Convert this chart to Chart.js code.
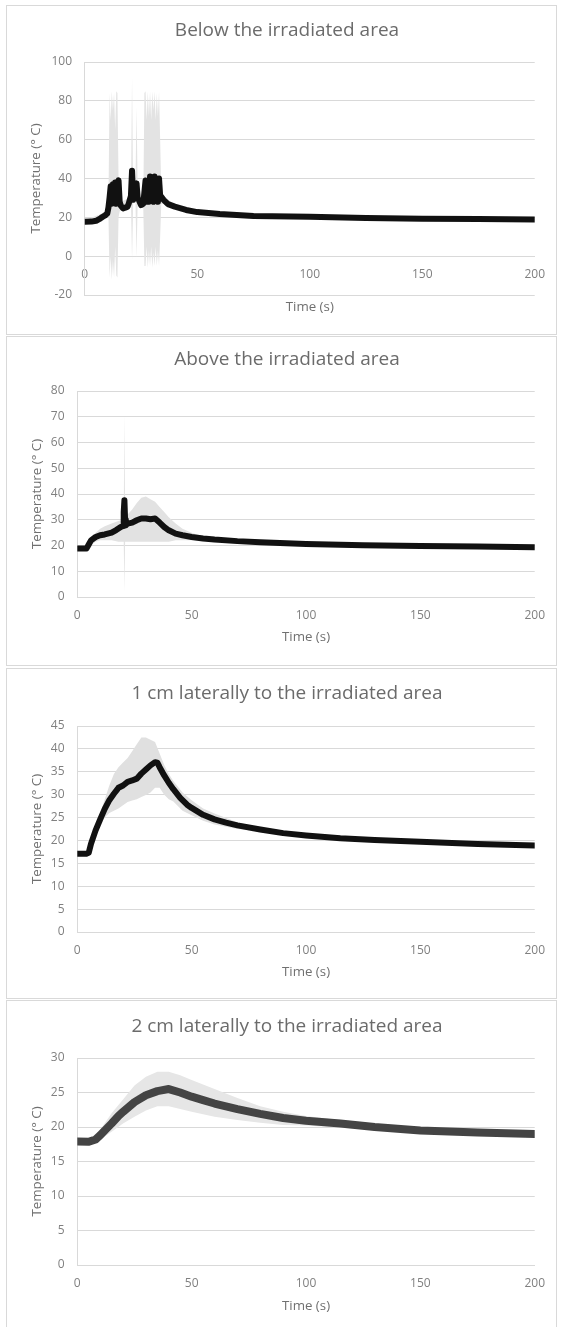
<!DOCTYPE html>
<html>
<head>
<meta charset="utf-8">
<script src="https://cdn.jsdelivr.net/npm/chart.js@4.4.1/dist/chart.umd.min.js"></script>
<style>
  html, body { margin:0; padding:0; background:#fff; overflow:hidden; }
  body { width:561px; height:1327px; position:relative; }
  .panel { position:absolute; left:6px; width:551px; box-sizing:border-box; border:1px solid #d9d9d9; background:#fff; }
  .panel canvas { position:absolute; left:0; top:0; }
</style>
</head>
<body>
<div class="panel" style="top:5px;height:330px"><canvas id="c1" width="549" height="328"></canvas></div>
<div class="panel" style="top:336px;height:330px"><canvas id="c2" width="549" height="328"></canvas></div>
<div class="panel" style="top:668px;height:331px"><canvas id="c3" width="549" height="329"></canvas></div>
<div class="panel" style="top:1000px;height:340px"><canvas id="c4" width="549" height="326"></canvas></div>
<script>
// ---------- Data ----------
// Below the irradiated area
const belowTime = [0, 3, 5, 7, 8, 9, 10, 10.5, 11, 11.5,
  12, 12.5, 13, 13.5, 14, 14.5, 15, 15.5, 16, 17,
  18, 19, 19.5, 20, 20.5, 21, 21.5, 22, 22.5, 23,
  23.5, 24, 25, 26, 26.5, 27, 27.5, 28, 28.5, 29,
  29.5, 30, 30.5, 31, 31.5, 32, 32.5, 33, 33.5, 34,
  35, 37, 40, 45, 50, 60, 75, 100, 125, 150,
  175, 200];
const belowMean = [17.7, 17.8, 18.2, 19.5, 20.3, 21, 22, 25, 30, 36,
  27, 37, 28, 38, 27, 37, 39, 28, 26, 24.6,
  25, 25.5, 27, 29, 31, 44, 29, 30.6, 33, 37.5,
  30, 29, 26.3, 27, 33, 39, 28, 37, 28, 41,
  29, 38, 28, 41, 29, 38, 28, 40, 31, 30.6,
  29, 26.8, 25.5, 23.8, 22.7, 21.7, 20.7, 20.3, 19.6, 19.3,
  19.1, 18.9];
const belowBandTime = [0, 10, 10.5, 11, 11.5, 12, 12.5, 13, 13.5, 14,
  14.5, 15, 15.5, 16, 20, 20.5, 21, 21.5, 22, 22.5,
  23, 23.5, 24, 26, 26.5, 27, 27.5, 28, 28.5, 29,
  29.5, 30, 30.5, 31, 31.5, 32, 32.5, 33, 33.5, 34,
  35, 40, 50, 60, 100, 200];
const belowHigh = [18.5, 23, 26, 84, 70, 85, 75, 84, 65, 85,
  84, 40, 30, 28, 30, 32, 92, 33, 33, 35,
  77, 34, 31, 29, 84, 85, 70, 85, 72, 85,
  70, 85, 75, 85, 70, 84, 72, 85, 60, 33,
  31, 26.5, 23.5, 22.3, 20.8, 19.3];
const belowLow = [17, 21, 22, -11, 0, -12, -2, -11, 5, -10,
  -11, 20, 23, 24, 26, 28, -2, 27, 28, 29,
  -1, 28, 27, 25, -5, -5, 5, -6, 3, -5,
  5, -6, 2, -5, 5, -5, 3, -5, 10, 27,
  27, 24.5, 22, 21.2, 19.8, 18.5];

// Above the irradiated area
const aboveTime = [0, 4, 5, 6, 8, 10, 12, 15, 17, 19,
  20, 20.3, 20.6, 20.9, 21.2, 22, 24, 26, 28, 30,
  32, 34, 36, 38, 40, 43, 46, 50, 55, 60,
  70, 80, 100, 125, 150, 175, 200];
const aboveMean = [18.8, 18.8, 20.4, 22, 23.3, 24, 24.3, 25, 26, 27.2,
  27.6, 33, 37.6, 30, 27.9, 28.5, 28.9, 29.8, 30.5, 30.5,
  30.2, 30.5, 28.9, 27.2, 25.9, 24.6, 24, 23.3, 22.7, 22.3,
  21.7, 21.3, 20.6, 20.1, 19.8, 19.6, 19.3];
const aboveBandTime = [0, 4, 5, 8, 10, 12, 15, 18, 20, 20.3,
  20.6, 20.9, 22, 24, 26, 28, 30, 32, 34, 36,
  38, 40, 43, 46, 50, 55, 60, 100, 200];
const aboveHigh = [19.5, 19.5, 21.5, 25, 26.5, 27.5, 28.5, 29.5, 30, 31,
  71.5, 31, 32, 34, 36.5, 38.5, 39, 38, 37, 35,
  33, 31, 28.5, 26.5, 25, 23.5, 22.8, 21.1, 19.8];
const aboveLow = [18.2, 18.2, 19.5, 21.5, 22, 22, 22, 21.5, 21.5, 21.5,
  2, 21.5, 21.5, 21.5, 21.5, 21.5, 21.5, 21.5, 21.5, 21.5,
  21.5, 21.5, 22, 22, 22, 21.8, 21.6, 20.1, 18.8];

// 1 cm laterally
const lat1Time = [0, 4, 5, 6, 8, 10, 12, 14, 16, 18,
  20, 22, 24, 26, 28, 30, 32, 34, 35, 36,
  38, 40, 42, 45, 48, 50, 55, 60, 65, 70,
  80, 90, 100, 115, 130, 150, 175, 200];
const lat1Mean = [17.1, 17.1, 17.3, 19.3, 22.2, 24.6, 26.9, 28.8, 30.2, 31.5,
  32, 32.8, 33.1, 33.5, 34.6, 35.5, 36.4, 37.1, 37, 36,
  34.2, 32.6, 31.2, 29.3, 27.8, 27.1, 25.6, 24.6, 23.9, 23.3,
  22.4, 21.6, 21.1, 20.5, 20.1, 19.7, 19.2, 18.9];
const lat1BandTime = [0, 5, 8, 10, 12, 14, 16, 18, 20, 22,
  24, 26, 28, 30, 32, 34, 36, 38, 40, 42,
  46, 50, 55, 60, 70, 80, 100, 150, 200];
const lat1High = [17.4, 17.6, 23.5, 26, 29, 32, 34.5, 36, 37, 38,
  39.5, 41, 42.5, 42.5, 42, 41.5, 39, 36.5, 34.5, 33,
  30.5, 28.8, 27, 25.9, 24, 22.8, 21.5, 19.9, 19.1];
const lat1Low = [16.8, 17, 21, 23, 25, 26, 26.5, 27, 27.7, 28.4,
  28.7, 29, 29.5, 29.9, 30.5, 31.5, 31.5, 30, 29, 28.5,
  26.5, 25.5, 24.3, 23.5, 22.5, 22, 20.7, 19.5, 18.7];

// 2 cm laterally
const lat2Time = [0, 5, 8, 10, 12, 15, 18, 20, 25, 30,
  35, 40, 45, 50, 55, 60, 70, 80, 90, 100,
  115, 130, 150, 175, 200];
const lat2Mean = [17.9, 17.85, 18.2, 18.8, 19.5, 20.5, 21.6, 22.2, 23.6, 24.6,
  25.2, 25.5, 25, 24.4, 23.9, 23.4, 22.6, 21.9, 21.3, 20.9,
  20.5, 20, 19.5, 19.2, 19];
const lat2BandTime = [0, 8, 10, 15, 20, 25, 30, 35, 40, 45,
  50, 60, 70, 80, 90, 100, 110, 150, 200];
const lat2High = [18.2, 18.6, 19.6, 22, 24, 26, 27.3, 28, 28, 27.5,
  26.8, 25.5, 24.2, 23, 22.2, 21.6, 21.2, 19.8, 19.2];
const lat2Low = [17.6, 17.8, 18.2, 19.3, 20.5, 21.5, 22.4, 23, 23, 22.6,
  22.2, 21.5, 21, 20.6, 20.3, 20.2, 20, 19.2, 18.8];

const timeTicks = { min: 0, max: 200, step: 50 };
const yTitle = 'Temperature (° C)';
const xTitle = 'Time (s)';

// ---------- Styling ----------
const FONT = '"Open Sans", "Noto Sans", sans-serif';
const GRID = '#d9d9d9';
const TXT_TITLE = '#6b6b6b';
const TXT_AXIS = '#707070';
const TXT_TICK = '#808080';

const pts = (xs, ys) => xs.map((x, i) => ({ x, y: ys[i] }));

function panel(id, p){
  const el = document.getElementById(id);
  new Chart(el, {
    type: 'line',
    data: {
      datasets: [
        { data: pts(p.t, p.mean), borderColor: p.lineColor, borderWidth: p.lineWidth,
          pointRadius: 0, tension: 0, borderJoinStyle: 'round', borderCapStyle: 'round', order: 0 },
        { data: pts(p.bandT, p.hi), borderWidth: 0, pointRadius: 0, tension: 0,
          fill: '+1', backgroundColor: p.bandColor, order: 1 },
        { data: pts(p.bandT, p.lo), borderWidth: 0, pointRadius: 0, tension: 0,
          fill: false, order: 1 }
      ]
    },
    options: {
      responsive: false,
      animation: false,
      events: [],
      layout: { padding: { left: 11, right: 0, top: 0, bottom: 0 } },
      plugins: {
        legend: { display: false },
        tooltip: { enabled: false },
        title: {
          display: true, text: p.title, color: TXT_TITLE,
          font: { family: FONT, size: 19, weight: 'normal' },
          padding: { top: p.titleTop, bottom: p.titleBottom }
        }
      },
      scales: {
        x: {
          type: 'linear', min: timeTicks.min, max: timeTicks.max,
          position: { y: 0 },
          ticks: { stepSize: timeTicks.step, color: TXT_TICK, padding: 11,
                   font: { family: FONT, size: 12 }, maxRotation: 0 },
          grid: { display: false, drawTicks: false },
          border: { display: true, color: GRID }
        },
        xt: {
          type: 'linear', position: 'bottom', min: 0, max: 1,
          ticks: { display: false }, grid: { display: false, drawTicks: false }, border: { display: false },
          title: { display: true, text: xTitle, color: TXT_AXIS,
                   font: { family: FONT, size: 13.3 }, padding: { top: 0, bottom: p.xTitlePad } },
          afterFit: s => { s.height = p.xH; }
        },
        y: {
          type: 'linear', min: p.yMin, max: p.yMax,
          ticks: { stepSize: p.yStep, color: TXT_TICK, padding: 12.8,
                   font: { family: FONT, size: 12 } },
          grid: { color: GRID, drawTicks: false },
          border: { display: true, color: GRID },
          title: { display: true, text: yTitle, color: TXT_AXIS,
                   font: { family: FONT, size: 13.3 }, padding: { top: p.yTitlePad, bottom: 0 } },
          afterFit: s => { s.width = p.yW; }
        },
        yr: {
          type: 'linear', position: 'right', min: 0, max: 1,
          ticks: { display: false }, grid: { display: false, drawTicks: false }, border: { display: false },
          afterFit: s => { s.width = 18.3; }
        }
      }
    }
  });
}

panel('c1', {
  title: 'Below the irradiated area',
  t: belowTime, mean: belowMean, bandT: belowBandTime, hi: belowHigh, lo: belowLow,
  yMin: -20, yMax: 100, yStep: 20,
  lineColor: '#111111', lineWidth: 6, bandColor: '#e3e3e3',
  titleTop: 13.6, titleBottom: 19.6, yTitlePad: 10, yW: 66.8, xH: 39, xTitlePad: 19
});
panel('c2', {
  title: 'Above the irradiated area',
  t: aboveTime, mean: aboveMean, bandT: aboveBandTime, hi: aboveHigh, lo: aboveLow,
  yMin: 0, yMax: 80, yStep: 10,
  lineColor: '#111111', lineWidth: 6, bandColor: '#e2e2e2',
  titleTop: 11.6, titleBottom: 19.6, yTitlePad: 11.3, yW: 59.3, xH: 68, xTitlePad: 20
});
panel('c3', {
  title: '1 cm laterally to the irradiated area',
  t: lat1Time, mean: lat1Mean, bandT: lat1BandTime, hi: lat1High, lo: lat1Low,
  yMin: 0, yMax: 45, yStep: 5,
  lineColor: '#111111', lineWidth: 6, bandColor: '#e0e0e0',
  titleTop: 13.6, titleBottom: 20.6, yTitlePad: 11.3, yW: 59.3, xH: 66, xTitlePad: 18
});
panel('c4', {
  title: '2 cm laterally to the irradiated area',
  t: lat2Time, mean: lat2Mean, bandT: lat2BandTime, hi: lat2High, lo: lat2Low,
  yMin: 0, yMax: 30, yStep: 5,
  lineColor: '#444444', lineWidth: 8, bandColor: '#e6e6e6',
  titleTop: 14.6, titleBottom: 19.6, yTitlePad: 11.3, yW: 59.3, xH: 62, xTitlePad: 13
});
</script>
</body>
</html>
